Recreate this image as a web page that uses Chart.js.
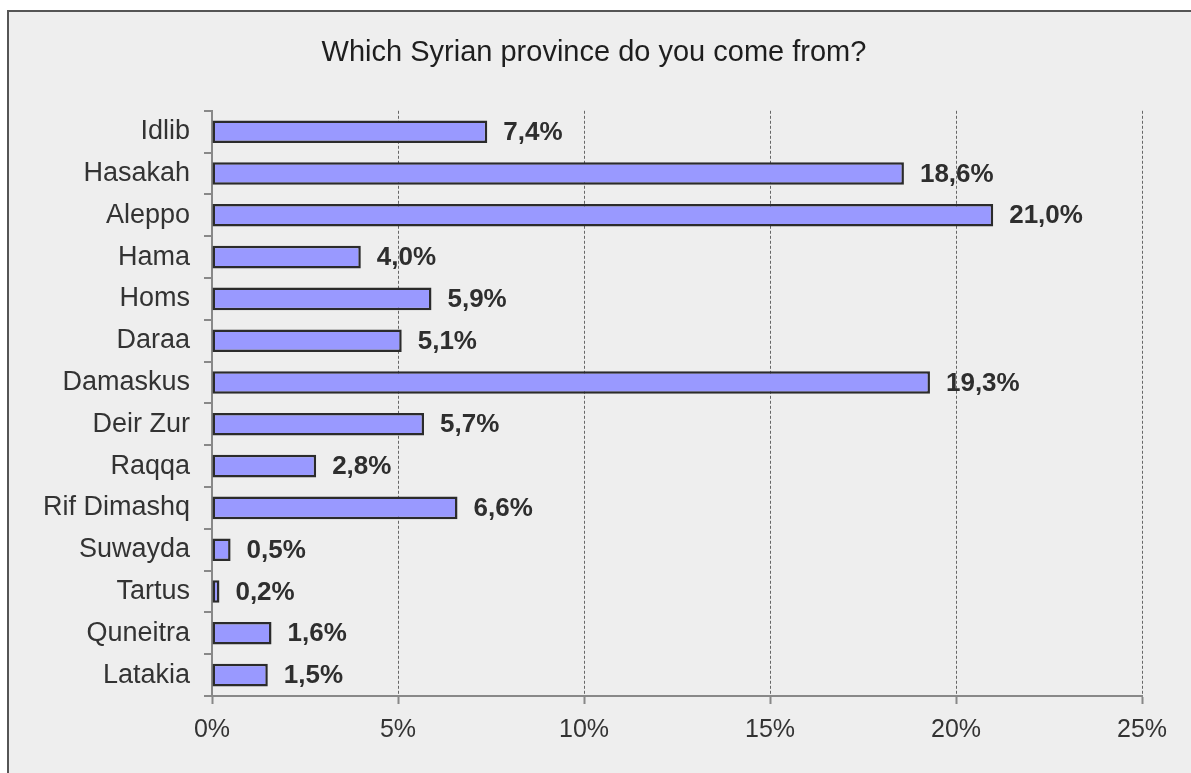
<!DOCTYPE html>
<html>
<head>
<meta charset="utf-8">
<script src="https://cdn.jsdelivr.net/npm/chart.js@4/dist/chart.umd.min.js"></script>
<style>
  html, body { margin: 0; padding: 0; background: #ffffff; overflow: hidden; }
  .frame {
    position: absolute;
    left: 7px;
    top: 10px;
    width: 1190px;
    height: 770px;
    background: #eeeeee;
    border-left: 2px solid #555555;
    border-top: 2px solid #555555;
  }
  #chart { display: block; }
</style>
</head>
<body>
<div class="frame">
  <canvas id="chart" width="1182" height="761"></canvas>
</div>
<script>
const provinces = ["Idlib", "Hasakah", "Aleppo", "Hama", "Homs", "Daraa", "Damaskus",
  "Deir Zur", "Raqqa", "Rif Dimashq", "Suwayda", "Tartus", "Quneitra", "Latakia"];
const shares = [7.4, 18.6, 21.0, 4.0, 5.9, 5.1, 19.3, 5.7, 2.8, 6.6, 0.5, 0.2, 1.6, 1.5];
const xTicks = [0, 5, 10, 15, 20, 25];

const FONT = "'Liberation Sans', Arial, sans-serif";

function fmtPct(v) {
  return v.toFixed(1).replace(".", ",") + "%";
}

// value labels at the end of each bar
const valueLabels = {
  id: "valueLabels",
  afterDatasetsDraw(chart) {
    const ctx = chart.ctx;
    const meta = chart.getDatasetMeta(0);
    ctx.save();
    ctx.font = "bold 26px " + FONT;
    ctx.fillStyle = "#2e2e2e";
    ctx.textAlign = "left";
    ctx.textBaseline = "middle";
    meta.data.forEach(function (bar, i) {
      ctx.fillText(fmtPct(shares[i]), bar.x + 16, bar.y + 1);
    });
    ctx.restore();
  }
};

new Chart(document.getElementById("chart"), {
  type: "bar",
  data: {
    labels: provinces,
    datasets: [{
      data: shares,
      backgroundColor: "#9999ff",
      borderColor: "#2b2b2b",
      borderWidth: 2.5,
      borderSkipped: false,
      categoryPercentage: 1,
      barPercentage: 0.54
    }]
  },
  options: {
    indexAxis: "y",
    responsive: false,
    animation: false,
    layout: { padding: { left: 12, right: 24, top: 0, bottom: 0 } },
    plugins: {
      legend: { display: false },
      tooltip: { enabled: false },
      title: {
        display: true,
        text: "Which Syrian province do you come from?",
        color: "#1e1e1e",
        font: { family: FONT, size: 29, weight: "normal" },
        padding: { top: 24, bottom: 40 }
      }
    },
    scales: {
      x: {
        min: 0,
        max: 25,
        afterBuildTicks(scale) {
          scale.ticks = xTicks.map(v => ({ value: v }));
        },
        afterFit(scale) {
          scale.height = 77;
          scale.paddingRight = 49;
        },
        ticks: {
          color: "#333333",
          font: { family: FONT, size: 25 },
          padding: 11,
          maxRotation: 0,
          callback: v => v + "%"
        },
        grid: {
          color: "#666666",
          lineWidth: 1,
          tickLength: 8,
          tickColor: "#888888",
          tickWidth: 2,
          tickBorderDash: []
        },
        border: { color: "#888888", width: 2, dash: [3, 2] }
      },
      y: {
        afterFit(scale) {
          scale.width = 191;
        },
        ticks: {
          color: "#333333",
          font: { family: FONT, size: 27 },
          padding: 14
        },
        grid: {
          drawOnChartArea: false,
          offset: true,
          tickLength: 8,
          color: "#888888",
          lineWidth: 2
        },
        border: { color: "#888888", width: 2 }
      }
    }
  },
  plugins: [valueLabels]
});
</script>
</body>
</html>
